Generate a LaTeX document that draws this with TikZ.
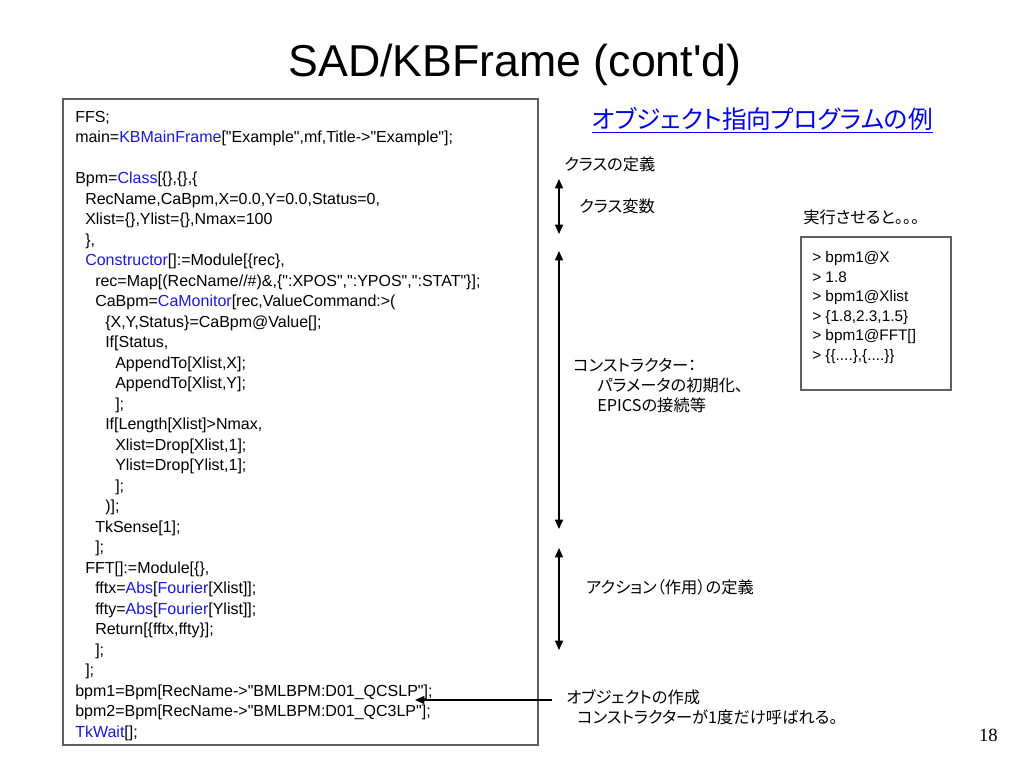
\documentclass[tikz,border=0pt]{standalone}
\usepackage{fontspec}
\usetikzlibrary{arrows.meta}
\setmainfont{Liberation Sans}[Ligatures=TeXOff]
\newfontfamily\jpfont[CharacterWidth=AlternateProportional]{Noto Sans CJK JP}
\newfontfamily\pagefont{Liberation Serif}
\definecolor{kwblue}{RGB}{25,25,215}
\definecolor{linkblue}{RGB}{0,0,235}
\definecolor{boxgray}{RGB}{95,95,95}
\newcommand{\kw}[1]{\textcolor{kwblue}{#1}}
\begin{document}
\begin{tikzpicture}[>={Triangle[length=7pt,width=6pt]}, x=0.75pt, y=-0.75pt,
  code/.style={anchor=base west, inner sep=0pt, font=\fontsize{12}{14}\selectfont},
  jplabel/.style={anchor=base west, inner sep=0pt, font=\jpfont\fontsize{12.2}{14}\selectfont},
  outline/.style={anchor=base west, inner sep=0pt, font=\fontsize{11.5}{14}\selectfont},
  frame/.style={draw=boxgray, line width=1.1pt},
  span/.style={<->, line width=1.1pt}]
  \useasboundingbox (0,0) rectangle (1024,768);
  % Title
  \node[anchor=base, inner sep=0pt, font=\fontsize{33.5}{36}\selectfont] (title) at (515,76) {SAD/KBFrame (cont'd)};
  \node[anchor=base west, inner sep=0pt, font=\jpfont\fontsize{18.5}{22}\selectfont, text=linkblue] (heading) at (592,128) {\underline{オブジェクト指向プログラムの例}};
  %--- Program listing ---
  \draw[frame] (63,99) rectangle (538,745);
  \node[code] (c0) at (75,122) {FFS;};
  \node[code] (c1) at (75,142.5) {main=\kw{KBMainFrame}["Example",mf,Title->"Example"];};
  \node[code] (c3) at (75,183.5) {Bpm=\kw{Class}[\{\},\{\},\{};
  \node[code] (c4) at (85,204) {RecName,CaBpm,X=0.0,Y=0.0,Status=0,};
  \node[code] (c5) at (85,224.5) {Xlist=\{\},Ylist=\{\},Nmax=100};
  \node[code] (c6) at (85,245) {\},};
  \node[code] (c7) at (85,265.5) {\kw{Constructor}[]:=Module[\{rec\},};
  \node[code] (c8) at (95,286) {rec=Map[(RecName//\#)\&,\{":XPOS",":YPOS",":STAT"\}];};
  \node[code] (c9) at (95,306.5) {CaBpm=\kw{CaMonitor}[rec,ValueCommand:>(};
  \node[code] (c10) at (105,327) {\{X,Y,Status\}=CaBpm@Value[];};
  \node[code] (c11) at (105,347.5) {If[Status,};
  \node[code] (c12) at (115,368) {AppendTo[Xlist,X];};
  \node[code] (c13) at (115,388.5) {AppendTo[Xlist,Y];};
  \node[code] (c14) at (115,409) {];};
  \node[code] (c15) at (105,429.5) {If[Length[Xlist]>Nmax,};
  \node[code] (c16) at (115,450) {Xlist=Drop[Xlist,1];};
  \node[code] (c17) at (115,470.5) {Ylist=Drop[Ylist,1];};
  \node[code] (c18) at (115,491) {];};
  \node[code] (c19) at (105,511.5) {)];};
  \node[code] (c20) at (95,532) {TkSense[1];};
  \node[code] (c21) at (95,552.5) {];};
  \node[code] (c22) at (85,573) {FFT[]:=Module[\{\},};
  \node[code] (c23) at (95,593.5) {fftx=\kw{Abs}[\kw{Fourier}[Xlist]];};
  \node[code] (c24) at (95,614) {ffty=\kw{Abs}[\kw{Fourier}[Ylist]];};
  \node[code] (c25) at (95,634.5) {Return[\{fftx,ffty\}];};
  \node[code] (c26) at (95,655) {];};
  \node[code] (c27) at (85,675.5) {];};
  \node[code] (c28) at (75,696) {bpm1=Bpm[RecName->"BMLBPM:D01\_QCSLP"];};
  \node[code] (c29) at (75,716.5) {bpm2=Bpm[RecName->"BMLBPM:D01\_QC3LP"];};
  \node[code] (c30) at (75,737) {\kw{TkWait}[];};
  %--- Remarks beside the listing ---
  \node[jplabel] (classdef) at (564,170) {クラスの定義};
  \node[jplabel] (classvar) at (579,212.5) {クラス変数};
  \node[jplabel] (ctor) at (573,371.5) {コンストラクター：};
  \node[jplabel] (ctorinit) at (597,391.5) {パラメータの初期化、};
  \node[jplabel] (ctorepics) at (597,411) {EPICSの接続等};
  \node[jplabel] (action) at (586,593.5) {アクション（作用）の定義};
  \node[jplabel] (objmake) at (566,703) {オブジェクトの作成};
  \node[jplabel] (objonce) at (577,723.5) {コンストラクターが1度だけ呼ばれる。};
  % Spans of the listing
  \coordinate (vartop) at (559,179);
  \coordinate (varbot) at (559,234);
  \coordinate (ctortop) at (559,251);
  \coordinate (ctorbot) at (559,529);
  \coordinate (acttop) at (559,548);
  \coordinate (actbot) at (559,650);
  \draw[span] (vartop) -- (varbot);
  \draw[span] (ctortop) -- (ctorbot);
  \draw[span] (acttop) -- (actbot);
  \coordinate (objtail) at (552,700);
  \coordinate (objtip) at (415,700);
  \draw[->, line width=1.1pt] (objtail) -- (objtip);
  %--- Session output ---
  \node[jplabel] (runlbl) at (803,223.5) {実行させると。。。};
  \draw[frame] (801,237) rectangle (951,390);
  \node[outline] (o1) at (812,262.5) {> bpm1@X};
  \node[outline] (o2) at (812,282) {> 1.8};
  \node[outline] (o3) at (812,301.5) {> bpm1@Xlist};
  \node[outline] (o4) at (812,321) {> \{1.8,2.3,1.5\}};
  \node[outline] (o5) at (812,340.5) {> bpm1@FFT[]};
  \node[outline] (o6) at (812,360) {> \{\{....\},\{....\}\}};
  % Page number
  \node[anchor=base east, inner sep=0pt, font=\pagefont\fontsize{14}{16}\selectfont] (pageno) at (998,741) {18};
\end{tikzpicture}
\end{document}
